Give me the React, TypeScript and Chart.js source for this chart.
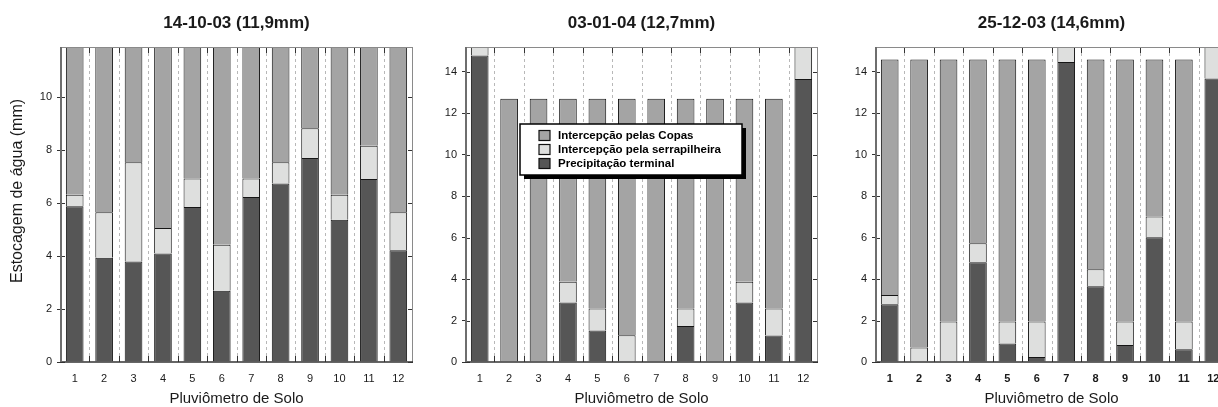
import { useEffect, useRef } from 'react';
import { Chart, registerables } from 'chart.js';

Chart.register(...registerables);

// Gauges (pluviômetros de solo)
const categories = ['1', '2', '3', '4', '5', '6', '7', '8', '9', '10', '11', '12'];

const seriesNames = ['Intercepção pelas Copas', 'Intercepção pela serrapilheira', 'Precipitação terminal'];

// Event 14-10-03 (11,9 mm)
const title1 = '14-10-03 (11,9mm)';
const terminal1 = [5.88, 3.94, 3.8, 4.1, 5.86, 2.69, 6.23, 6.74, 7.71, 5.37, 6.91, 4.22];
const serrapilheira1 = [0.44, 1.72, 3.75, 0.96, 1.07, 1.74, 0.7, 0.81, 1.12, 0.95, 1.26, 1.44];
const copas1 = [5.58, 6.24, 4.35, 6.84, 4.97, 7.47, 4.97, 4.35, 3.07, 5.58, 3.73, 6.24];
const yMax1 = 11.9;
const yTicks1 = [0, 2, 4, 6, 8, 10];

// Event 03-01-04 (12,7 mm)
const title2 = '03-01-04 (12,7mm)';
const terminal2 = [14.79, 0.03, 0.03, 2.87, 1.52, 0, 0.03, 1.74, 0.03, 2.87, 1.28, 13.66];
const serrapilheira2 = [0.41, 0, 0, 1.0, 1.06, 1.29, 0, 0.84, 0, 1.0, 1.3, 1.54];
const copas2 = [0, 12.67, 12.67, 8.83, 10.12, 11.41, 12.67, 10.12, 12.67, 8.83, 10.12, 0];

// Event 25-12-03 (14,6 mm)
const title3 = '25-12-03 (14,6mm)';
const terminal3 = [2.79, 0, 0, 4.81, 0.89, 0.24, 14.48, 3.65, 0.82, 6.02, 0.61, 13.68];
const serrapilheira3 = [0.44, 0.7, 1.95, 0.92, 1.06, 1.71, 0.72, 0.82, 1.13, 1.0, 1.34, 1.52];
const copas3 = [11.37, 13.9, 12.65, 8.87, 12.65, 12.65, 0, 10.13, 12.65, 7.58, 12.65, 0];

const yMax23 = 15.2;
const yTicks23 = [0, 2, 4, 6, 8, 10, 12, 14];

const xTitle = 'Pluviômetro de Solo';
const yTitle = 'Estocagem de água (mm)';

const COL_COPAS = '#a4a4a4';
const COL_SERRA = '#dedfde';
const COL_TERM = '#565656';
const FONT = '"Liberation Sans", Arial, Helvetica, sans-serif';
const TEXT = '#1a1a1a';

type PanelProps = {
  left: number;
  width: number;
  axisWidth: number;
  padRight: number;
  title: string;
  terminal: number[];
  serrapilheira: number[];
  copas: number[];
  yMax: number;
  yTicks: number[];
  boldX?: boolean;
  showYTitle?: boolean;
  showLegend?: boolean;
};

function Panel(p: PanelProps) {
  const ref = useRef<HTMLCanvasElement | null>(null);

  useEffect(() => {
    if (!ref.current) return;

    const line = (ctx: CanvasRenderingContext2D, x1: number, y1: number, x2: number, y2: number) => {
      ctx.beginPath();
      ctx.moveTo(x1, y1);
      ctx.lineTo(x2, y2);
      ctx.stroke();
    };

    const decor = {
      id: 'decor',
      beforeDatasetsDraw(chart: any) {
        const { ctx, chartArea: a, scales } = chart;
        const x = scales.x;
        ctx.save();
        ctx.strokeStyle = '#b8b8b8';
        ctx.lineWidth = 1;
        ctx.setLineDash([3, 3]);
        for (let i = 0; i < categories.length - 1; i++) {
          const bx = Math.round((x.getPixelForTick(i) + x.getPixelForTick(i + 1)) / 2) + 0.5;
          line(ctx, bx, a.top, bx, a.bottom);
        }
        ctx.restore();
      },
      afterDatasetsDraw(chart: any) {
        const { ctx, chartArea: a, scales } = chart;
        const x = scales.x;
        const y = scales.y;
        ctx.save();

        // boundary tick marks, top and bottom
        ctx.strokeStyle = '#333';
        ctx.lineWidth = 1;
        for (let i = 0; i < categories.length - 1; i++) {
          const bx = Math.round((x.getPixelForTick(i) + x.getPixelForTick(i + 1)) / 2) + 0.5;
          line(ctx, bx, a.top, bx, a.top + 6);
          line(ctx, bx, a.bottom - 6, bx, a.bottom);
        }
        // inner y ticks on both sides
        for (const v of p.yTicks) {
          const ty = Math.round(y.getPixelForValue(v)) + 0.5;
          line(ctx, a.left, ty, a.left + 5, ty);
          line(ctx, a.right - 5, ty, a.right, ty);
        }

        // frame
        ctx.strokeStyle = '#8a8a8a';
        ctx.lineWidth = 1;
        line(ctx, a.left, a.top + 0.5, a.right, a.top + 0.5);
        line(ctx, a.right - 0.5, a.top, a.right - 0.5, a.bottom);
        ctx.strokeStyle = '#333';
        ctx.lineWidth = 1.5;
        line(ctx, a.left, a.bottom, a.right, a.bottom);
        ctx.strokeStyle = '#6e6e6e';
        ctx.lineWidth = 2;
        line(ctx, a.left + 1, a.top, a.left + 1, a.bottom);

        // titles
        const cx = (a.left + a.right) / 2;
        ctx.fillStyle = TEXT;
        ctx.textAlign = 'center';
        ctx.textBaseline = 'alphabetic';
        ctx.font = `bold 17px ${FONT}`;
        ctx.fillText(p.title, cx, 28);

        ctx.textBaseline = 'middle';
        ctx.font = `15px ${FONT}`;
        ctx.fillText(xTitle, cx, 399);

        if (p.showYTitle) {
          ctx.save();
          ctx.translate(18, 191);
          ctx.rotate(-Math.PI / 2);
          ctx.font = `16px ${FONT}`;
          ctx.fillText(yTitle, 0, 0);
          ctx.restore();
        }

        if (p.showLegend) {
          const bx = 100, by = 124, bw = 222, bh = 51;
          ctx.fillStyle = '#000';
          ctx.fillRect(bx + 4, by + 4, bw, bh);
          ctx.fillStyle = '#fff';
          ctx.fillRect(bx, by, bw, bh);
          ctx.strokeStyle = '#000';
          ctx.lineWidth = 1.5;
          ctx.strokeRect(bx, by, bw, bh);
          const cols = [COL_COPAS, COL_SERRA, COL_TERM];
          const ys = [135.5, 149.5, 163.5];
          ctx.font = `bold 11.5px ${FONT}`;
          ctx.textAlign = 'left';
          ctx.textBaseline = 'middle';
          for (let i = 0; i < 3; i++) {
            ctx.fillStyle = cols[i];
            ctx.fillRect(119, ys[i] - 5, 11, 10);
            ctx.strokeStyle = '#111';
            ctx.lineWidth = 1.2;
            ctx.strokeRect(119, ys[i] - 5, 11, 10);
            ctx.fillStyle = '#000';
            ctx.fillText(seriesNames[i], 138, ys[i] + 0.5);
          }
        }
        ctx.restore();
      },
    };

    const barStyle = { borderColor: '#151515', borderWidth: 1, barPercentage: 0.6, categoryPercentage: 1 };

    const chart = new Chart(ref.current, {
      type: 'bar',
      data: {
        labels: categories,
        datasets: [
          { label: seriesNames[2], data: p.terminal, backgroundColor: COL_TERM, ...barStyle },
          { label: seriesNames[1], data: p.serrapilheira, backgroundColor: COL_SERRA, ...barStyle },
          { label: seriesNames[0], data: p.copas, backgroundColor: COL_COPAS, ...barStyle },
        ],
      },
      options: {
        animation: false,
        responsive: false,
        events: [],
        layout: { padding: { top: 47, left: 0, right: p.padRight, bottom: 0 } },
        plugins: { legend: { display: false }, tooltip: { enabled: false }, title: { display: false } },
        scales: {
          x: {
            stacked: true,
            grid: { display: false, drawTicks: false },
            border: { display: false },
            ticks: {
              color: TEXT,
              padding: 10,
              maxRotation: 0,
              autoSkip: false,
              font: { family: FONT, size: 11, weight: p.boldX ? 'bold' : 'normal' },
            },
            afterFit: (s: any) => {
              s.height = 45;
            },
          },
          y: {
            stacked: true,
            min: 0,
            max: p.yMax,
            grid: { display: true, drawOnChartArea: false, drawTicks: true, tickLength: 3, color: '#333' },
            border: { display: false },
            ticks: { color: TEXT, padding: 5, font: { family: FONT, size: 11 } },
            afterBuildTicks: (s: any) => {
              s.ticks = p.yTicks.map((v) => ({ value: v }));
            },
            afterFit: (s: any) => {
              s.width = p.axisWidth;
            },
          },
        },
      },
      plugins: [decor],
    });
    return () => chart.destroy();
  }, []);

  return (
    <canvas
      ref={ref}
      width={p.width}
      height={407}
      style={{ position: 'absolute', left: p.left, top: 0, width: p.width, height: 407, display: 'block' }}
    />
  );
}

export default function App() {
  return (
    <div
      style={{
        position: 'absolute',
        left: 0,
        top: 0,
        width: 1218,
        height: 407,
        overflow: 'hidden',
        background: '#fff',
      }}
    >
      <Panel
        left={0}
        width={420}
        axisWidth={60}
        padRight={7}
        title={title1}
        terminal={terminal1}
        serrapilheira={serrapilheira1}
        copas={copas1}
        yMax={yMax1}
        yTicks={yTicks1}
        showYTitle
      />
      <Panel
        left={420}
        width={405}
        axisWidth={45}
        padRight={7}
        title={title2}
        terminal={terminal2}
        serrapilheira={serrapilheira2}
        copas={copas2}
        yMax={yMax23}
        yTicks={yTicks23}
        showLegend
      />
      <Panel
        left={825}
        width={415}
        axisWidth={50}
        padRight={12}
        title={title3}
        terminal={terminal3}
        serrapilheira={serrapilheira3}
        copas={copas3}
        yMax={yMax23}
        yTicks={yTicks23}
        boldX
      />
    </div>
  );
}
